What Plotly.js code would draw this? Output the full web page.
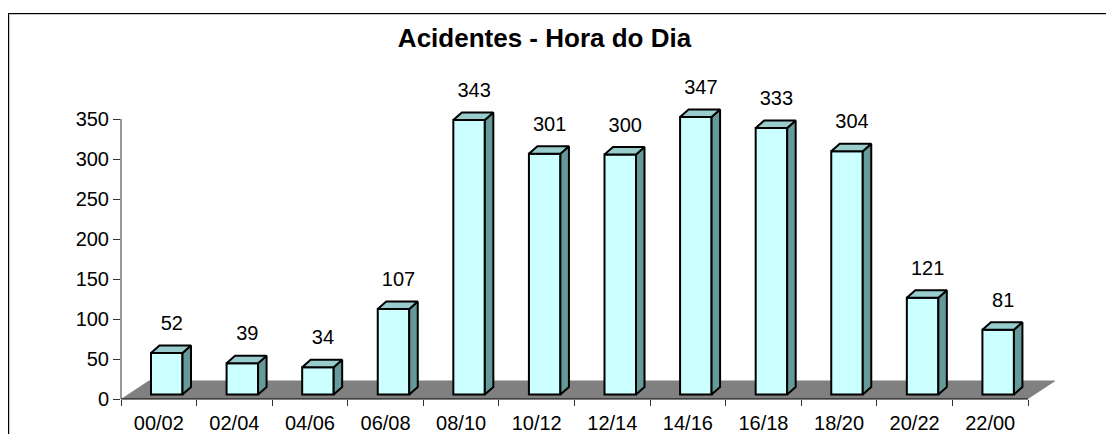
<!DOCTYPE html>
<html>
<head>
<meta charset="utf-8">
<script src="https://cdn.plot.ly/plotly-3.0.1.min.js"></script>
<style>
  html, body { margin: 0; padding: 0; background: #ffffff; }
  body { width: 1106px; height: 434px; overflow: hidden; position: relative; }
  #frame { position: absolute; left: 8px; top: 13px; width: 1200px; height: 500px;
           border-top: 1px solid #000; border-left: 1px solid #000;
           box-shadow: inset 1px 1px 0 #c8c8c8; }
  #chart { position: absolute; left: 0; top: 0; width: 1106px; height: 434px; }
</style>
</head>
<body>
<div id="frame"></div>
<div id="chart"></div>
<script>
// ---------------- data ----------------
const chartTitle = 'Acidentes - Hora do Dia';
const categories = ['00/02', '02/04', '04/06', '06/08', '08/10', '10/12',
                    '12/14', '14/16', '16/18', '18/20', '20/22', '22/00'];
const accidents  = [52, 39, 34, 107, 343, 301, 300, 347, 333, 304, 121, 81];
const yTickValues = [0, 50, 100, 150, 200, 250, 300, 350];

// ---------------- geometry / style ----------------
const W = 1106, H = 434;
const mL = 121, mR = 51, mT = 35, mB = 32;
const pxPerCat = (1028 - 121) / categories.length;  // horizontal scale
const pxPerUnit = 0.8;                               // vertical scale
const zeroPad = 3;                                   // px below the zero line
const plotW = W - mL - mR, plotH = H - mT - mB;
const dxU = px => px / pxPerCat;
const dyU = px => px / pxPerUnit;

const xRange = [-0.5, -0.5 + plotW / pxPerCat];
const yRange = [-dyU(zeroPad), dyU(plotH - zeroPad)];

const idx = categories.map((_, i) => i);
const nCat = categories.length;

const barOffset = -0.5 + dxU(30);
const barWidth = dxU(31.5);
const baseU = dyU(4.5);
const depthX = dxU(8.5), depthY = dyU(7.5);
const floorDX = dxU(28), floorDY = dyU(18.5);

const FRONT = '#CCFFFF', TOP = '#99CCCC', SIDE = '#669999', FLOOR = '#808080';
const FONT = 'Liberation Sans, Arial, sans-serif';
const outline = { color: '#000000', width: 2 };

// top and side faces built from the data values
const topX = [], topY = [], sideX = [], sideY = [];
accidents.forEach((v, i) => {
  const L = i + barOffset, R = L + barWidth;
  const B = baseU, T = baseU + v;
  topX.push(L, L + depthX, R + depthX, R, L, null);
  topY.push(T, T + depthY, T + depthY, T, T, null);
  sideX.push(R, R, R + depthX, R + depthX, R, null);
  sideY.push(B, T, T + depthY, B + depthY, B, null);
});

const traces = [
  {
    type: 'bar', x: idx, y: accidents, base: baseU,
    offset: barOffset, width: barWidth,
    marker: { color: FRONT, line: outline },
    hoverinfo: 'skip', showlegend: false
  },
  {
    type: 'scatter', mode: 'lines', x: sideX, y: sideY, fill: 'toself',
    fillcolor: SIDE, line: outline, hoverinfo: 'skip', showlegend: false
  },
  {
    type: 'scatter', mode: 'lines', x: topX, y: topY, fill: 'toself',
    fillcolor: TOP, line: outline, hoverinfo: 'skip', showlegend: false
  },
  {
    type: 'scatter', mode: 'text', xaxis: 'x2', yaxis: 'y',
    x: idx.map(i => i + barOffset + barWidth / 2 + dxU(5)),
    y: accidents.map(v => v + baseU + dyU(28)),
    text: accidents.map(v => String(v)),
    textposition: 'middle center',
    textfont: { family: FONT, size: 20, color: '#000' },
    cliponaxis: false, hoverinfo: 'skip', showlegend: false
  }
];

const boundaries = idx.concat([nCat]).map(i => i - 0.5);

const layout = {
  width: W, height: H,
  margin: { l: mL, r: mR, t: mT, b: mB, pad: 0 },
  paper_bgcolor: 'rgba(0,0,0,0)',
  plot_bgcolor: 'rgba(0,0,0,0)',
  font: { family: FONT, size: 20, color: '#000' },
  showlegend: false,
  bargap: 0,
  title: {
    text: '<b>' + chartTitle + '</b>',
    font: { family: FONT, size: 26, color: '#000' },
    xref: 'container', x: 544.5 / W, xanchor: 'center',
    yref: 'container', y: 1 - 38 / H, yanchor: 'middle'
  },
  xaxis: {
    range: xRange, anchor: 'free', position: zeroPad / plotH,
    tickmode: 'array', tickvals: boundaries, ticktext: boundaries.map(() => ''),
    ticks: 'outside', ticklen: 6, tickcolor: '#333', tickwidth: 1,
    showline: false, showgrid: false, zeroline: false, fixedrange: true
  },
  xaxis2: {
    overlaying: 'x', range: xRange, anchor: 'free', position: zeroPad / plotH,
    side: 'bottom',
    tickmode: 'array', tickvals: idx, ticktext: categories,
    ticks: 'outside', ticklen: 6, tickcolor: 'rgba(0,0,0,0)',
    tickfont: { family: FONT, size: 20, color: '#000' },
    showline: false, showgrid: false, zeroline: false, fixedrange: true
  },
  yaxis: {
    range: yRange,
    tickmode: 'array', tickvals: yTickValues,
    ticks: 'outside', ticklen: 7, tickcolor: '#333', tickwidth: 1,
    tickfont: { family: FONT, size: 20, color: '#000' },
    showline: false, showgrid: false, zeroline: false, fixedrange: true
  },
  shapes: [
    {
      type: 'path', xref: 'x', yref: 'y', layer: 'below',
      path: `M ${-0.5},0 L ${nCat - 0.5},0 L ${nCat - 0.5 + floorDX},${floorDY} L ${-0.5 + floorDX},${floorDY} Z`,
      fillcolor: FLOOR, line: { width: 0 }
    },
    {
      type: 'line', xref: 'x', yref: 'y', layer: 'above',
      x0: -0.5, x1: nCat - 0.5, y0: 0, y1: 0,
      line: { color: '#000', width: 1 }
    },
    {
      type: 'line', xref: 'paper', yref: 'y', layer: 'above',
      x0: 0, x1: 0, y0: 0, y1: yTickValues[yTickValues.length - 1],
      line: { color: '#333', width: 1 }
    }
  ]
};

Plotly.newPlot('chart', traces, layout, { displayModeBar: false, staticPlot: true });
</script>
</body>
</html>
